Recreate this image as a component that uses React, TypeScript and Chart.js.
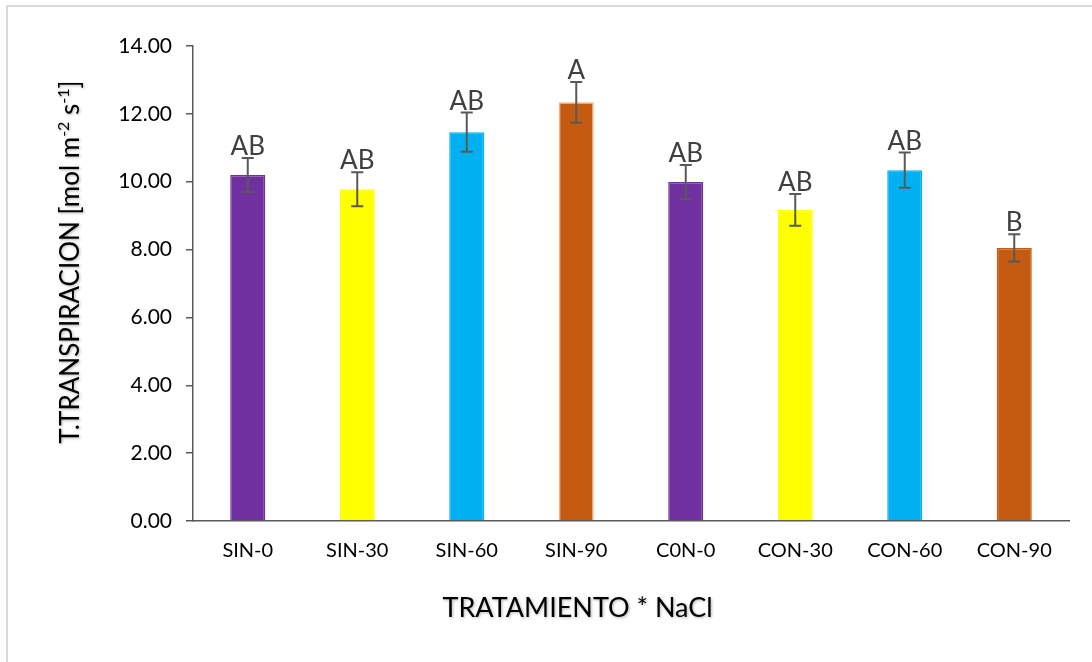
import React, { useEffect, useRef } from "react";
import { Chart, registerables } from "chart.js";

Chart.register(...registerables);

const categories = ["SIN-0", "SIN-30", "SIN-60", "SIN-90", "C0N-0", "CON-30", "CON-60", "CON-90"];
const values = [10.2, 9.78, 11.46, 12.34, 9.99, 9.17, 10.34, 8.05];
const errors = [0.5, 0.5, 0.58, 0.6, 0.5, 0.47, 0.52, 0.4];
const letters = ["AB", "AB", "AB", "A", "AB", "AB", "AB", "B"];
const barColors = ["#7030A0", "#FFFF00", "#00B0F0", "#C55A11", "#7030A0", "#FFFF00", "#00B0F0", "#C55A11"];
const barBorders = ["#7030A0", "#FFFF00", "#00B0F0", "#F4B183", "#7030A0", "#FFFF00", "#00B0F0", "#C55A11"];
const yTicks = { min: 0, max: 14, step: 2 };
const xTitle = "TRATAMIENTO * NaCl";
const yTitleParts: { t: string; sup: boolean }[] = [
  { t: "T.TRANSPIRACION [mol m", sup: false },
  { t: "-2", sup: true },
  { t: " s", sup: false },
  { t: "-1", sup: true },
  { t: "]", sup: false },
];

const FONT = "Lato, 'Open Sans', sans-serif";

const overlayPlugin = {
  id: "overlay",
  afterDatasetsDraw(chart: any) {
    const { ctx, chartArea, scales } = chart;
    const y = scales.y;
    const meta = chart.getDatasetMeta(0);
    ctx.save();
    meta.data.forEach((bar: any, i: number) => {
      const x = bar.x;
      const top = y.getPixelForValue(values[i] + errors[i]);
      const bot = y.getPixelForValue(values[i] - errors[i]);
      ctx.strokeStyle = "#595959";
      ctx.lineWidth = 2;
      ctx.beginPath();
      ctx.moveTo(x, top);
      ctx.lineTo(x, bot);
      ctx.moveTo(x - 6, top);
      ctx.lineTo(x + 6, top);
      ctx.moveTo(x - 6, bot);
      ctx.lineTo(x + 6, bot);
      ctx.stroke();
      ctx.fillStyle = "#404040";
      ctx.font = `26px ${FONT}`;
      ctx.textAlign = "center";
      ctx.textBaseline = "alphabetic";
      ctx.fillText(letters[i], x, top - 3);
    });
    ctx.shadowColor = "rgba(0,0,0,0.3)";
    ctx.shadowBlur = 3;
    ctx.shadowOffsetX = 1;
    ctx.shadowOffsetY = 1;
    ctx.fillStyle = "#000";
    ctx.font = `27px ${FONT}`;
    ctx.textAlign = "center";
    ctx.textBaseline = "alphabetic";
    const xc = chartArea.left + chartArea.width * 0.439;
    ctx.fillText(xTitle, xc, chartArea.bottom + 96);

    const big = `26px ${FONT}`;
    const small = `16px ${FONT}`;
    let total = 0;
    yTitleParts.forEach((p) => {
      ctx.font = p.sup ? small : big;
      total += ctx.measureText(p.t).width;
    });
    ctx.translate(chartArea.left - 114, chartArea.top + chartArea.height * 0.455);
    ctx.rotate(-Math.PI / 2);
    ctx.textAlign = "left";
    let pos = -total / 2;
    yTitleParts.forEach((p) => {
      ctx.font = p.sup ? small : big;
      ctx.fillText(p.t, pos, p.sup ? -10 : 0);
      pos += ctx.measureText(p.t).width;
    });
    ctx.restore();
  },
};

export default function App() {
  const ref = useRef<HTMLCanvasElement | null>(null);
  useEffect(() => {
    if (!ref.current) return;
    const chart = new Chart(ref.current, {
      type: "bar",
      data: {
        labels: categories,
        datasets: [
          {
            data: values,
            backgroundColor: barColors,
            borderColor: barBorders,
            borderWidth: 1.5,
            categoryPercentage: 1,
            barPercentage: 0.32,
          },
        ],
      },
      options: {
        animation: false,
        responsive: true,
        maintainAspectRatio: false,
        layout: { padding: { left: 0, top: 46, right: 23, bottom: 0 } },
        plugins: { legend: { display: false }, tooltip: { enabled: false }, title: { display: false } },
        scales: {
          x: {
            afterFit: (s: any) => {
              s.height = 141;
            },
            grid: { display: false, drawTicks: false },
            border: { display: true, color: "#595959", width: 1.5 },
            ticks: { color: "#000", font: { family: FONT, size: 20 }, padding: 18 },
          },
          y: {
            min: yTicks.min,
            max: yTicks.max,
            afterFit: (s: any) => {
              s.width = 193;
            },
            ticks: {
              stepSize: yTicks.step,
              color: "#000",
              font: { family: FONT, size: 21 },
              padding: 14,
              callback: (v: any) => Number(v).toFixed(2),
            },
            grid: { display: true, drawOnChartArea: false, drawTicks: true, tickLength: 7, color: "#595959", lineWidth: 1.5 },
            border: { display: true, color: "#595959", width: 1.5 },
          },
        },
      },
      plugins: [overlayPlugin],
    });
    return () => chart.destroy();
  }, []);
  return (
    <div style={{ position: "absolute", left: 0, top: 0, width: 1092, height: 662, background: "#fff", overflow: "hidden" }}>
      <div
        style={{
          position: "absolute",
          left: 6,
          top: 5,
          width: 1200,
          height: 800,
          borderTop: "2px solid #d9d9d9",
          borderLeft: "2px solid #d9d9d9",
        }}
      />
      <canvas ref={ref} style={{ position: "absolute", left: 0, top: 0, width: 1092, height: 662 }} />
    </div>
  );
}
